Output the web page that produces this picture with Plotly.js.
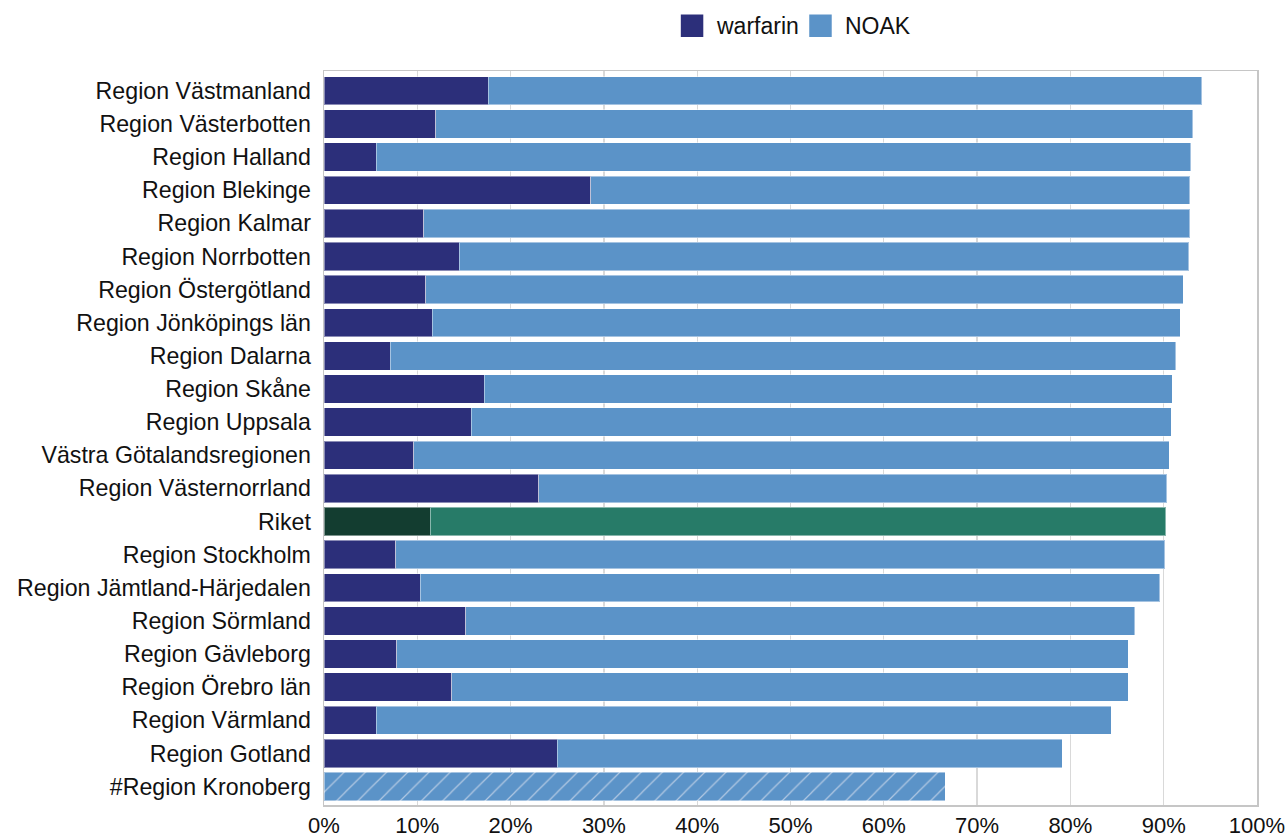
<!DOCTYPE html>
<html>
<head>
<meta charset="utf-8">
<script src="https://cdn.plot.ly/plotly-3.0.1.min.js"></script>
<style>
  html, body { margin: 0; padding: 0; background: #ffffff; }
  #chart { width: 1288px; height: 836px; }
</style>
</head>
<body>
<div id="chart"></div>
<script>
// Regions, top to bottom
const regions = [
  "Region Västmanland", "Region Västerbotten", "Region Halland", "Region Blekinge",
  "Region Kalmar", "Region Norrbotten", "Region Östergötland", "Region Jönköpings län",
  "Region Dalarna", "Region Skåne", "Region Uppsala", "Västra Götalandsregionen",
  "Region Västernorrland", "Riket", "Region Stockholm", "Region Jämtland-Härjedalen",
  "Region Sörmland", "Region Gävleborg", "Region Örebro län", "Region Värmland",
  "Region Gotland", "#Region Kronoberg"
];

// Share (%) treated with warfarin
const warfarin = [
  17.6, 12.0, 5.6, 28.6,
  10.7, 14.5, 10.9, 11.6,
  7.1, 17.2, 15.8, 9.6,
  23.0, 11.4, 7.7, 10.3,
  15.2, 7.8, 13.7, 5.6,
  25.0, null
];

// Share (%) treated with NOAK
const noak = [
  76.5, 81.1, 87.3, 64.2,
  82.1, 78.2, 81.2, 80.2,
  84.2, 73.7, 75.0, 81.0,
  67.3, 78.8, 82.4, 79.3,
  71.7, 78.4, 72.5, 78.8,
  54.1, 66.6
];

const xTickVals = [0, 10, 20, 30, 40, 50, 60, 70, 80, 90, 100];
const xTickText = ["0%", "10%", "20%", "30%", "40%", "50%", "60%", "70%", "80%", "90%", "100%"];

const COL_WARF = "#2c2f7a";
const COL_NOAK = "#5b93c8";
const COL_RIKET_WARF = "#133d30";
const COL_RIKET_NOAK = "#277b68";
const COL_HATCH = "#b3c9e3";

// Regions marked with "#" have no warfarin/NOAK split and are drawn hatched
const isHatched = regions.map(r => r.startsWith("#"));
const noakSolid = noak.map((v, i) => isHatched[i] ? null : v);
const noakHatched = noak.map((v, i) => isHatched[i] ? v : null);

const warfColors = regions.map(r => r === "Riket" ? COL_RIKET_WARF : COL_WARF);
const noakColors = regions.map(r => r === "Riket" ? COL_RIKET_NOAK : COL_NOAK);

const FONT = "Liberation Sans, Arial, sans-serif";
const barEdge = { color: "rgba(255,255,255,0.45)", width: 1 };

const traces = [
  {
    type: "bar", orientation: "h", name: "warfarin",
    y: regions, x: warfarin,
    marker: { color: warfColors, line: barEdge },
    hoverinfo: "x+y", showlegend: false
  },
  {
    type: "bar", orientation: "h", name: "NOAK",
    y: regions, x: noakSolid,
    marker: { color: noakColors, line: barEdge },
    hoverinfo: "x+y", showlegend: false
  },
  {
    type: "bar", orientation: "h", name: "NOAK (uppdelning saknas)",
    y: regions, x: noakHatched,
    marker: {
      color: COL_NOAK, line: barEdge,
      pattern: {
        shape: "/", fillmode: "replace",
        bgcolor: COL_NOAK, fgcolor: COL_HATCH, fgopacity: 1,
        size: 15, solidity: 0.08
      }
    },
    hoverinfo: "x+y", showlegend: false
  }
];

// Legend drawn as swatches + labels above the plot
const legendItems = [
  { label: "warfarin", color: COL_WARF, x0: 680.5, x1: 703, tx: 714 },
  { label: "NOAK", color: COL_NOAK, x0: 809, x1: 831.5, tx: 843 }
];
const L = 323.5, R = 1257, T = 71, B = 805;
const px = v => (v - L) / (R - L);
const py = v => (B - v) / (B - T);

const shapes = legendItems.map(it => ({
  type: "rect", xref: "paper", yref: "paper",
  x0: px(it.x0), x1: px(it.x1), y0: py(37), y1: py(14.5),
  fillcolor: it.color, line: { width: 0 }
}));
const annotations = legendItems.map(it => ({
  xref: "paper", yref: "paper", x: px(it.tx), y: py(26),
  xanchor: "left", yanchor: "middle", showarrow: false,
  text: it.label, font: { family: FONT, size: 23, color: "#111111" }
}));

const layout = {
  width: 1288, height: 836,
  margin: { l: L, r: 1288 - R, t: T, b: 836 - B, pad: 0 },
  paper_bgcolor: "#ffffff", plot_bgcolor: "#ffffff",
  barmode: "stack", bargap: 0.145,
  showlegend: false,
  font: { family: FONT, size: 23, color: "#111111" },
  xaxis: {
    range: [0, 100], tickvals: xTickVals, ticktext: xTickText,
    showgrid: true, gridcolor: "#d9d9d9", gridwidth: 1.3,
    zeroline: false, showline: true, mirror: true, linecolor: "#c6c6c6", linewidth: 1.5,
    ticks: "", ticklabelstandoff: 0,
    tickfont: { family: FONT, size: 22, color: "#111111" }, fixedrange: true
  },
  yaxis: {
    type: "category", categoryorder: "array", categoryarray: regions,
    range: [21.557, -0.598],
    showgrid: false, zeroline: false, showline: true, mirror: true, linecolor: "#c6c6c6", linewidth: 1.5,
    ticks: "", ticklabelstandoff: 7,
    tickfont: { family: FONT, size: 23.2, color: "#111111" }, fixedrange: true
  },
  shapes: shapes,
  annotations: annotations
};

Plotly.newPlot("chart", traces, layout, { displayModeBar: false, staticPlot: true });
</script>
</body>
</html>
